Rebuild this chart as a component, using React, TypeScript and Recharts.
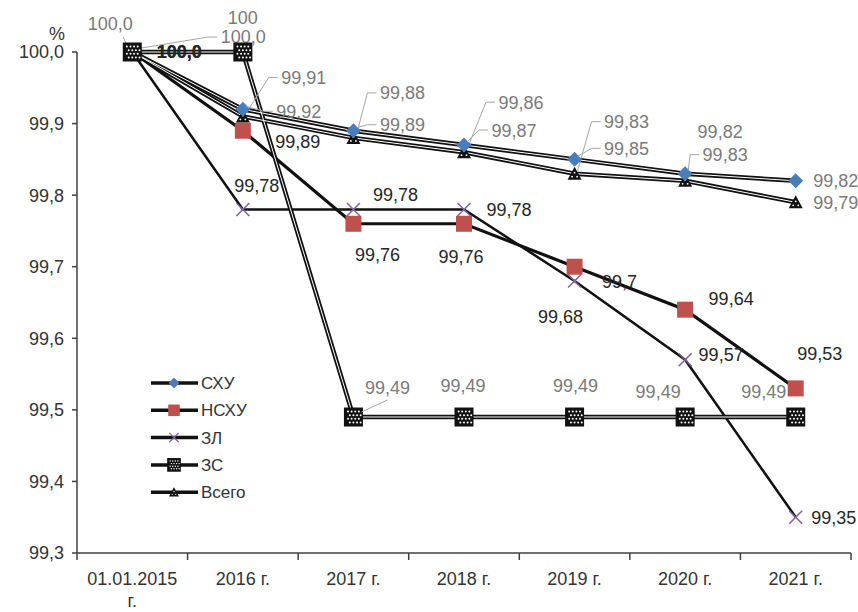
import { LineChart, Line, XAxis, YAxis, Legend } from "recharts";

// categories and values
const categories = ["01.01.2015 г.", "2016 г.", "2017 г.", "2018 г.", "2019 г.", "2020 г.", "2021 г."];
const skhu = [100, 99.92, 99.89, 99.87, 99.85, 99.83, 99.82];
const nskhu = [100, 99.89, 99.76, 99.76, 99.7, 99.64, 99.53];
const zl = [100, 99.78, 99.78, 99.78, 99.68, 99.57, 99.35];
const zs = [100, 100, 99.49, 99.49, 99.49, 99.49, 99.49];
const total = [100, 99.91, 99.88, 99.86, 99.83, 99.82, 99.79];
const yTicks = [99.3, 99.4, 99.5, 99.6, 99.7, 99.8, 99.9, 100];
const seriesNames = ["СХУ", "НСХУ", "ЗЛ", "ЗС", "Всего"];

const data = categories.map((name, i) => ({
  name,
  skhu: skhu[i],
  nskhu: nskhu[i],
  zl: zl[i],
  zs: zs[i],
  total: total[i],
}));

const W = 858;
const H = 612;
const LEFT = 77;
const RIGHT = 7;
const TOP = 52;
const X_H = 59;
const BAND = (W - LEFT - RIGHT) / categories.length;
const FONT = "'Liberation Sans', Arial, sans-serif";
const GRAY = "#7a7a7a";
const DARK = "#262626";
const AXIS = "#404040";

// label placement relative to the point: [dx, dy, leader kind]
type Place = [number, number, number] | null;
const skhuPlace: Place[] = [[-22, -28, 3], [56, 2, 1], [49, -6, 1], [50, -15, 1], [52, -11, 1], [40, -19, 1], [40, 0, 0]];
const totalPlace: Place[] = [[111, -15, 1], [61, -39, 1], [49, -45, 1], [57, -50, 1], [52, -52, 1], [35, -49, 0], [40, 0, 0]];
const nskhuPlace: Place[] = [[47, 0, 0], [55, 11, 0], [24, 31, 0], [-3, 33, 0], [45, 15, 0], [46, -11, 0], [24, -35, 0]];
const zlPlace: Place[] = [[47, 0, 0], [14, -24, 0], [42, -15, 0], [45, 0, 0], [-14, 35, 0], [36, -5, 0], [38, 0, 0]];
const zsPlace: Place[] = [null, [0, -34, 0], [34, -29, 2], [-1, -31, 0], [1, -31, 0], [-27, -25, 0], [-32, -25, 0]];

const fmt = (v: number) => (v === 100 ? "100,0" : String(v).replace(".", ","));
const fmtPlain = (v: number) => String(v).replace(".", ",");

const diamond = (cx: number, cy: number) => (
  <polygon points={`${cx},${cy - 7.5} ${cx + 7.5},${cy} ${cx},${cy + 7.5} ${cx - 7.5},${cy}`} fill="#4a7ebb" />
);
const redSquare = (cx: number, cy: number) => (
  <rect x={cx - 8} y={cy - 8} width={16} height={16} fill="#c0504d" />
);
const cross = (cx: number, cy: number) => (
  <g stroke="#8064a2" strokeWidth={1.6}>
    <line x1={cx - 6.5} y1={cy - 6.5} x2={cx + 6.5} y2={cy + 6.5} />
    <line x1={cx - 6.5} y1={cy + 6.5} x2={cx + 6.5} y2={cy - 6.5} />
  </g>
);
const hatchSquare = (cx: number, cy: number) => {
  const dots = [];
  for (let r = 0; r < 4; r++)
    for (let c = 0; c < 4; c++)
      dots.push(<circle key={`${r}-${c}`} cx={cx - 5.4 + c * 3.6 + (r % 2) * 1.8} cy={cy - 5.4 + r * 3.6} r={1} fill="#fff" />);
  return (
    <g>
      <rect x={cx - 9.5} y={cy - 9.5} width={19} height={19} fill="#111" />
      {dots}
    </g>
  );
};
const triangle = (cx: number, cy: number) => (
  <g>
    <polygon points={`${cx},${cy - 7} ${cx + 7},${cy + 6} ${cx - 7},${cy + 6}`} fill="#111" />
    <circle cx={cx - 2.5} cy={cy + 3} r={0.9} fill="#fff" />
    <circle cx={cx + 2.5} cy={cy + 3} r={0.9} fill="#fff" />
    <circle cx={cx} cy={cy - 1} r={0.9} fill="#fff" />
  </g>
);

const markers: Record<string, (cx: number, cy: number) => JSX.Element> = {
  СХУ: diamond,
  НСХУ: redSquare,
  ЗЛ: cross,
  ЗС: hatchSquare,
  Всего: triangle,
};

function leader(cx: number, cy: number, lx: number, ly: number, w: number, kind: number) {
  const props = { stroke: "#a6a6a6", strokeWidth: 1, fill: "none" };
  const left = lx - w / 2;
  if (kind === 1)
    return <polyline {...props} points={`${cx + 3},${cy - 3} ${left - 12},${ly} ${left - 3},${ly}`} />;
  if (kind === 2) return <line {...props} x1={cx + 8} y1={cy - 5} x2={lx} y2={ly + 12} />;
  if (kind === 3) return <line {...props} x1={lx + w / 2 - 10} y1={ly + 13} x2={cx - 4} y2={cy - 3} />;
  return null;
}

function makeDot(id: string, place: Place[], color: string, format: (v: number) => string) {
  const marker = markers[id];
  return (p: any) => {
    const { cx, cy, index, value } = p;
    const pl = place[index];
    const v = Array.isArray(value) ? value[1] : value;
    const text = format(v);
    const w = text.length * 9.2;
    const bold = index === 0 && color === DARK;
    return (
      <g key={`${id}-${index}`}>
        {marker(cx, cy)}
        {pl && leader(cx, cy, cx + pl[0], cy + pl[1], w, pl[2])}
        {pl && (
          <text
            x={cx + pl[0]}
            y={cy + pl[1]}
            dy="0.36em"
            textAnchor="middle"
            fontSize={18}
            fontWeight={bold ? 700 : 400}
            fontFamily={FONT}
            fill={color}
          >
            {text}
          </text>
        )}
      </g>
    );
  };
}

const XTick = (p: any) => {
  const { x, y, payload, index } = p;
  const label: string = payload.value;
  const cut = label.lastIndexOf(" ");
  const parts = label.length > 8 ? [label.slice(0, cut), label.slice(cut + 1)] : [label];
  return (
    <g>
      <line x1={x - BAND / 2} x2={x - BAND / 2} y1={y} y2={y + 7} stroke={AXIS} strokeWidth={1.5} />
      {index === categories.length - 1 && (
        <line x1={x + BAND / 2} x2={x + BAND / 2} y1={y} y2={y + 7} stroke={AXIS} strokeWidth={1.5} />
      )}
      <text x={x} y={y + 32} textAnchor="middle" fontSize={18} fontFamily={FONT} fill="#333">
        {parts.map((s, i) => (
          <tspan key={i} x={x} dy={i === 0 ? 0 : 22}>
            {s}
          </tspan>
        ))}
      </text>
    </g>
  );
};

const LegendBox = () => (
  <svg width={130} height={135}>
    {seriesNames.map((n, i) => {
      const y = 13 + i * 27.3;
      return (
        <g key={n}>
          <line x1={3} x2={50} y1={y} y2={y} stroke="#111" strokeWidth={3.5} />
          <g transform={`translate(26 ${y}) scale(0.72) translate(-26 ${-y})`}>{markers[n](26, y)}</g>
          <text x={53} y={y} dy="0.36em" fontSize={17} fontFamily={FONT} fill="#333">
            {n}
          </text>
        </g>
      );
    })}
  </svg>
);

const base = { isAnimationActive: false, activeDot: false as const, dot: false as const, legendType: "none" as const };

export default function App() {
  return (
    <div style={{ position: "absolute", left: 0, top: 0, background: "#fff" }}>
      <LineChart width={W} height={H} data={data} margin={{ top: TOP, right: RIGHT, left: 0, bottom: 0 }}>
        <XAxis
          dataKey="name"
          height={X_H}
          padding={{ left: BAND / 2, right: BAND / 2 }}
          tickLine={false}
          tickSize={0}
          tickMargin={0}
          interval={0}
          axisLine={{ stroke: AXIS, strokeWidth: 1.5 }}
          tick={<XTick />}
        />
        <YAxis
          width={LEFT}
          domain={[99.3, 100]}
          ticks={yTicks}
          interval={0}
          tickSize={5}
          tickMargin={8}
          tickFormatter={(v: number) => v.toFixed(1).replace(".", ",")}
          tick={{ fontSize: 18, fontFamily: FONT, fill: "#333" }}
          axisLine={{ stroke: AXIS, strokeWidth: 1.5 }}
          tickLine={{ stroke: AXIS, strokeWidth: 1.5 }}
          label={{
            content: () => (
              <text x={57} y={34} dy="0.36em" textAnchor="middle" fontSize={18} fontFamily={FONT} fill="#333">
                %
              </text>
            ),
          }}
        />
        <Legend
          layout="vertical"
          align="center"
          verticalAlign="middle"
          wrapperStyle={{ position: "absolute", left: 148, top: 370, width: 130, height: 135 }}
          content={() => <LegendBox />}
        />

        {/* black lines */}
        <Line {...base} dataKey="zl" stroke="#111" strokeWidth={2.5} />
        <Line {...base} dataKey="zs" stroke="#111" strokeWidth={4.5} />
        <Line {...base} dataKey="nskhu" stroke="#111" strokeWidth={3.2} />
        <Line {...base} dataKey="total" stroke="#111" strokeWidth={4.5} />
        <Line {...base} dataKey="skhu" stroke="#111" strokeWidth={4.5} />
        {/* thin white centres of the double lines */}
        <Line {...base} dataKey="zs" stroke="#fff" strokeWidth={1} />
        <Line {...base} dataKey="total" stroke="#fff" strokeWidth={1} />
        <Line {...base} dataKey="skhu" stroke="#fff" strokeWidth={1} />

        {/* markers and labels */}
        <Line isAnimationActive={false} activeDot={false} legendType="none" dataKey="zl" stroke="none" dot={makeDot("ЗЛ", zlPlace, DARK, fmt)} />
        <Line isAnimationActive={false} activeDot={false} legendType="none" dataKey="nskhu" stroke="none" dot={makeDot("НСХУ", nskhuPlace, DARK, fmt)} />
        <Line isAnimationActive={false} activeDot={false} legendType="none" dataKey="total" stroke="none" dot={makeDot("Всего", totalPlace, GRAY, fmt)} />
        <Line isAnimationActive={false} activeDot={false} legendType="none" dataKey="skhu" stroke="none" dot={makeDot("СХУ", skhuPlace, GRAY, fmt)} />
        <Line isAnimationActive={false} activeDot={false} legendType="none" dataKey="zs" stroke="none" dot={makeDot("ЗС", zsPlace, GRAY, fmtPlain)} />
      </LineChart>
    </div>
  );
}
